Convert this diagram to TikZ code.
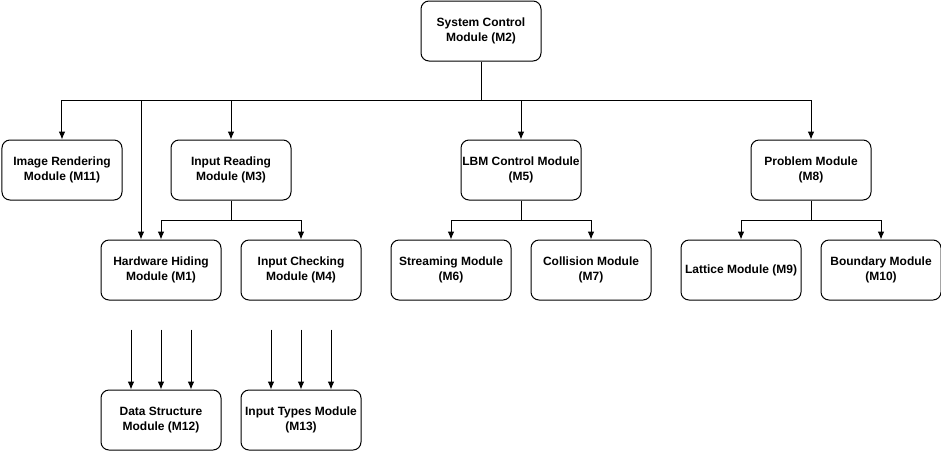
\documentclass[tikz,border=0pt]{standalone}
\usepackage{fontspec}
\setmainfont{Liberation Sans}
\usetikzlibrary{positioning,arrows.meta}
\tikzstyle{mod}=[draw, rounded corners=6pt, minimum height=45pt, minimum width=90pt, inner sep=0pt, align=center, line width=0.75pt, font=\fontsize{9pt}{11.25pt}\selectfont\bfseries]

\begin{document}
\begin{tikzpicture}[node distance=105pt,>={Latex[length=6pt,width=5pt]},line width=0.75pt]
\useasboundingbox (-46.5pt,-210.75pt) rectangle (659.25pt,127.5pt);

\node[mod] at (0,0) (m11) {Image Rendering\\Module (M11)};
\node[mod, right of = m11, node distance = 126.75pt] (m3) {Input Reading\\Module (M3)};
\node[mod, right of = m3, node distance = 217.5pt] (m5) {LBM Control Module\\(M5)};
\node[mod, right of = m5, node distance = 217.5pt] (m8) {Problem Module\\(M8)};
\node[mod] at (314.25pt,104.25pt) (m2) {System Control\\Module (M2)};

\node[mod] at (74.25pt,-75pt) (m1) {Hardware Hiding\\Module (M1)};
\node[mod, right of = m1] (m4) {Input Checking\\Module (M4)};
\node[mod, right of = m4, node distance = 112.5pt] (m6) {Streaming Module\\(M6)};
\node[mod, right of = m6] (m7) {Collision Module\\(M7)};
\node[mod, right of = m7, node distance = 112.5pt] (m9) {Lattice Module (M9)};
\node[mod, right of = m9] (m10) {Boundary Module\\(M10)};

\node[mod, below of = m1, node distance = 112.5pt] (m12) {Data Structure\\Module (M12)};
\node[mod, below of = m4, node distance = 112.5pt] (m13) {Input Types Module\\(M13)};

% top level bus
\coordinate[below of = m2, node distance = 51.75pt] (bus);
\draw[->] (m2.south) -- (bus) -| (m11.north);
\draw[->] (bus) -| ([xshift=-15pt]m1.north);
\draw[->] (bus) -| (m3.north);
\draw[->] (bus) -| (m5.north);
\draw[->] (bus) -| (m8.north);

% children of M3, M5, M8
\coordinate[below of = m3, node distance = 37.5pt] (irbus);
\draw (m3.south) -- (irbus);
\draw[->] (irbus) -| (m1.north);
\draw[->] (irbus) -| (m4.north);

\coordinate[below of = m5, node distance = 37.5pt] (lbmbus);
\draw (m5.south) -- (lbmbus);
\draw[->] (lbmbus) -| (m6.north);
\draw[->] (lbmbus) -| (m7.north);

\coordinate[below of = m8, node distance = 37.5pt] (pbus);
\draw (m8.south) -- (pbus);
\draw[->] (pbus) -| (m9.north);
\draw[->] (pbus) -| (m10.north);

% uses arrows into M12 and M13
\foreach \dx/\n in {-22.5/a,0/b,22.5/c} {
  \coordinate (ds\n) at ([xshift=\dx pt,yshift=45pt]m12.north);
  \draw[->] (ds\n) -- (ds\n |- m12.north);
  \coordinate (it\n) at ([xshift=\dx pt,yshift=45pt]m13.north);
  \draw[->] (it\n) -- (it\n |- m13.north);
}
\end{tikzpicture}
\end{document}
